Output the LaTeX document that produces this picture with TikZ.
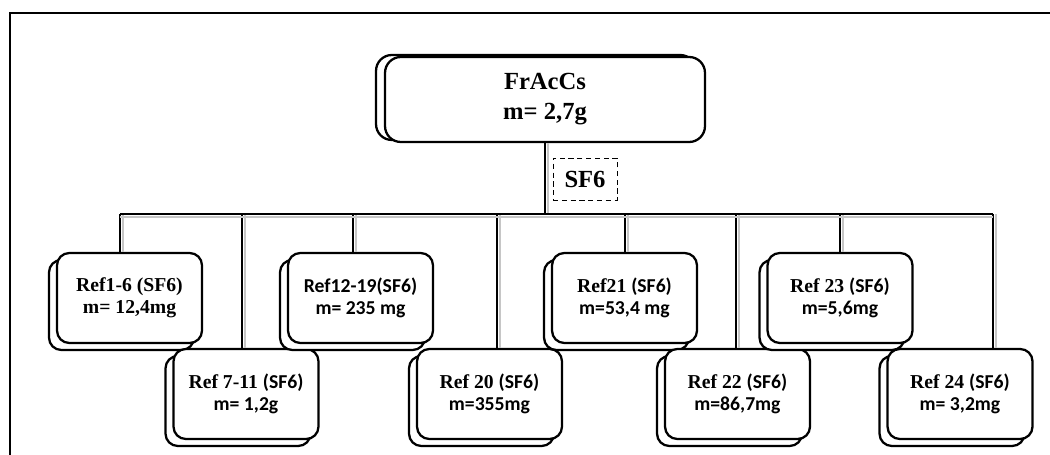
\documentclass[tikz,border=0pt]{standalone}
\usepackage{fontspec}
\setmainfont{Liberation Serif}
\newfontfamily\calibfont{Carlito}
\usetikzlibrary{positioning}

\begin{document}
\begin{tikzpicture}[
    x=0.02cm, y=-0.02cm,
    box/.style={draw=black, line width=1.3pt, fill=white, rounded corners=7pt,
      minimum width=2.9cm, minimum height=1.8cm, align=center,
      font=\bfseries\fontsize{11.2}{12.5}\selectfont},
    topbox/.style={box, rounded corners=9pt, minimum width=6.4cm, minimum height=1.7cm,
      font=\bfseries\fontsize{14}{17}\selectfont},
    link/.style={draw=black, line width=1.5pt},
    linkshade/.style={draw=gray!45, line width=1.1pt},
    tag/.style={draw=black, densely dashed, line width=0.5pt, minimum width=1.28cm,
      minimum height=0.84cm, font=\bfseries\fontsize{14}{17}\selectfont},
  ]
  \useasboundingbox (0,0) rectangle (1050,455);
  % ----- outer frame (cut off at right and bottom) -----
  \draw[line width=1.4pt] (10,470) -- (10,13) -- (1070,13);

  % ----- top fraction -----
  \node[topbox] (topb) at (536,97.5) {};
  \node[topbox] (top) at (545,99.5) {FrAcCs\\m= 2,7g};
  \node[tag] (sf) at (585,179) {SF6};

  % ----- sub-fractions: name / x / y / text -----
  \foreach \n/\x/\y/\txt in {
      r1/129.5/298/{Ref1-6 (SF6)\\m= 12,4mg},
      r2/246/394/{Ref 7-11 {\calibfont(SF6)}\\{\calibfont m= 1,2g}},
      r3/360.5/298/{{\calibfont Ref12-19(SF6)}\\{\calibfont m= 235 mg}},
      r4/489.5/394/{Ref 20 {\calibfont(SF6)}\\{\calibfont m=355mg}},
      r5/624.5/298/{Ref21 {\calibfont(SF6)}\\{\calibfont m=53,4 mg}},
      r6/737.5/394/{Ref 22 {\calibfont(SF6)}\\{\calibfont m=86,7mg}},
      r7/840/298/{Ref 23 {\calibfont(SF6)}\\{\calibfont m=5,6mg}},
      r8/960/394/{Ref 24 {\calibfont(SF6)}\\{\calibfont m= 3,2mg}}}{
    \node[box] (\n b) at (\x-8,\y+7) {};
    \node[box] (\n) at (\x,\y) {\txt};
  }

  % ----- wiring -----
  \coordinate (hub) at (545,214);
  \foreach \i/\bx in {1/120, 2/242, 3/353, 4/497, 5/625, 6/736, 7/840, 8/993}{
    \coordinate (b\i) at (\bx,214);
    \draw[linkshade] ([xshift=1.6pt]b\i) -- ([xshift=1.6pt]b\i |- r\i.north);
    \draw[link] (b\i) -- (b\i |- r\i.north);
  }
  \draw[linkshade] ([yshift=-1.6pt]b1) -- ([yshift=-1.6pt]b8);
  \draw[linkshade] ([xshift=1.6pt]top.south) -- ([xshift=1.6pt]hub);
  \draw[link] (b1) -- (b8);
  \draw[link] (top.south) -- (hub);

\end{tikzpicture}
\end{document}
